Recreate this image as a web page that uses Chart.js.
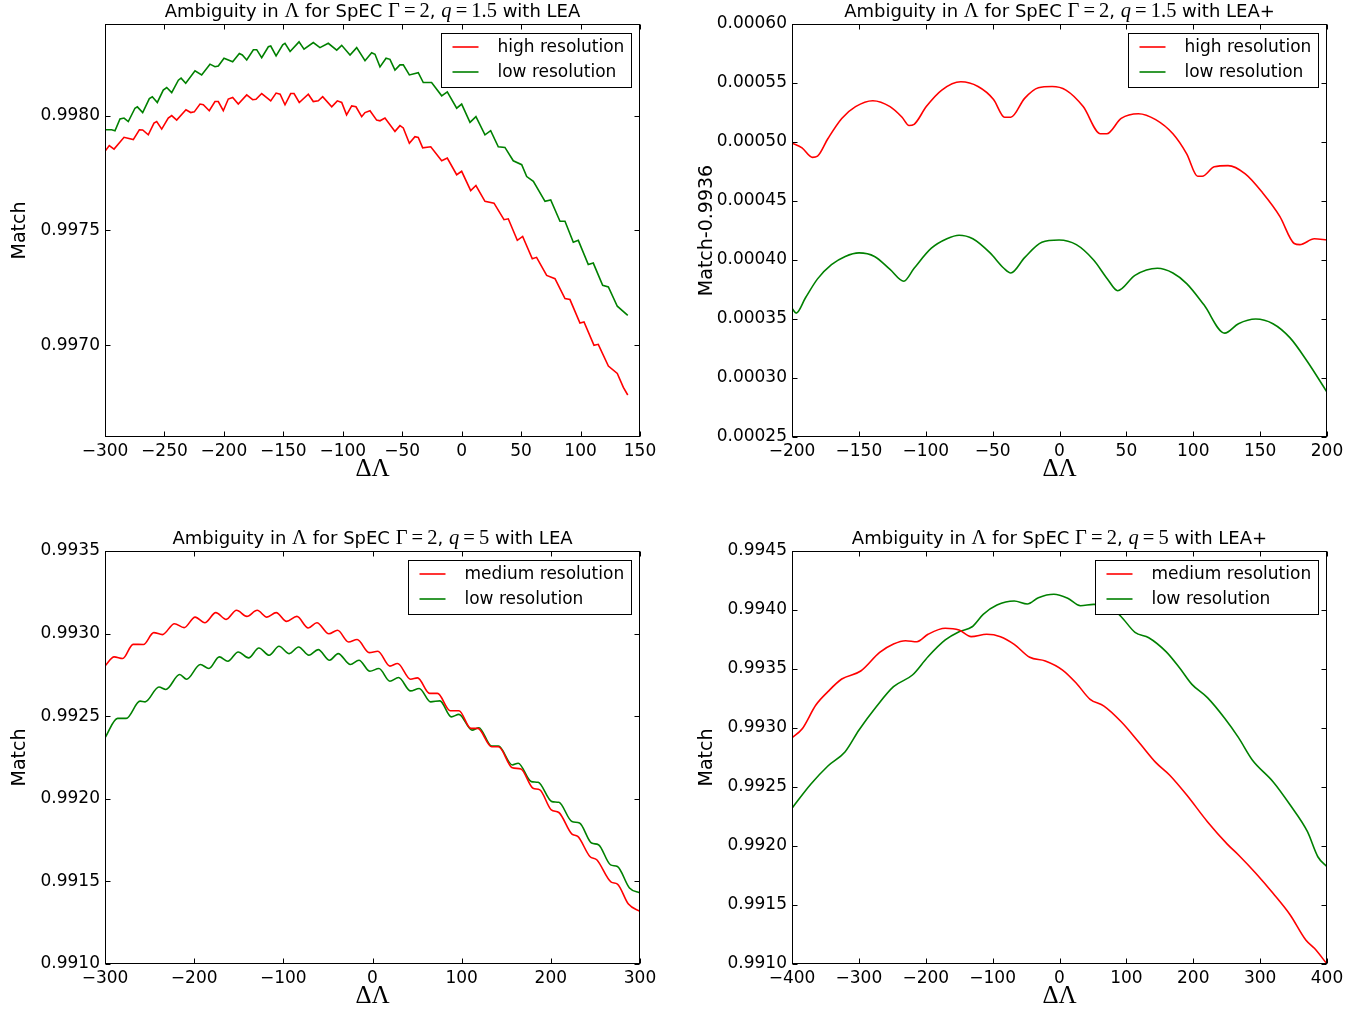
<!DOCTYPE html>
<html>
<head>
<meta charset="utf-8">
<script src="https://cdn.jsdelivr.net/npm/chart.js@4.4.0/dist/chart.umd.min.js"></script>
<style>
    body { margin: 0; background: #fff; width: 1372px; height: 1015px; overflow: hidden; position: relative; }
    canvas { position: absolute; }
</style>
</head>
<body>
<canvas id="panel1" width="686" height="500" style="left:0;top:0"></canvas>
<canvas id="panel2" width="686" height="500" style="left:687px;top:0"></canvas>
<canvas id="panel3" width="686" height="500" style="left:0;top:527px"></canvas>
<canvas id="panel4" width="686" height="500" style="left:687px;top:527px"></canvas>
<script>
// q=1.5, LEA
const q15LeaHighX = [-300, -296.4, -292.4, -284, -276.2, -271.1, -268.3, -263.6, -258.8, -256.5, -252.3, -246.8, -243.9, -239.7, -231.9, -227.9, -224.9, -220.1, -217.3, -212.3, -207.5, -204.7, -200.5, -196.3, -192.6, -187.9, -180.8, -175.8, -173, -168.2, -160.6, -156.1, -152.7, -148.6, -143.8, -141, -136.6, -129, -124.8, -120.6, -116.9, -109.3, -104.6, -100.9, -96.8, -92.5, -88.9, -84.1, -81.3, -77.1, -71.5, -68.7, -64.5, -56.1, -51.9, -49.1, -44, -39.3, -36.5, -32.8, -26, -16.8, -12.1, -4.2, 0, 7.6, 12, 19.6, 27.2, 35.6, 39.2, 46.8, 51.3, 59.4, 63, 71.5, 78.5, 86.9, 91.1, 99.5, 102.9, 111.3, 114.9, 123.4, 130.9, 136, 139.7];
const q15LeaHighY = [0.997845, 0.997870, 0.997855, 0.997906, 0.997896, 0.997939, 0.997938, 0.997917, 0.997968, 0.997975, 0.997942, 0.997990, 0.998001, 0.997981, 0.998026, 0.998014, 0.998017, 0.998051, 0.998048, 0.998022, 0.998062, 0.998062, 0.998022, 0.998073, 0.998080, 0.998051, 0.998091, 0.998070, 0.998072, 0.998097, 0.998065, 0.998099, 0.998094, 0.998048, 0.998097, 0.998097, 0.998058, 0.998094, 0.998062, 0.998065, 0.998083, 0.998039, 0.998065, 0.998058, 0.998004, 0.998043, 0.998039, 0.997996, 0.998014, 0.998022, 0.997981, 0.997978, 0.997990, 0.997932, 0.997957, 0.997947, 0.997880, 0.997909, 0.997906, 0.997860, 0.997865, 0.997804, 0.997816, 0.997743, 0.997758, 0.997674, 0.997696, 0.997627, 0.997619, 0.997547, 0.997551, 0.997457, 0.997474, 0.997377, 0.997383, 0.997304, 0.997290, 0.997203, 0.997199, 0.997097, 0.997101, 0.997000, 0.997004, 0.996909, 0.996877, 0.996816, 0.996783];
const q15LeaLowX = [-300, -294.4, -291.6, -287.4, -284, -280.4, -274.8, -272.8, -268.3, -262.7, -260.2, -256, -251, -248.1, -243.9, -238.3, -236, -232.1, -224.3, -218.7, -211.7, -207.5, -204.7, -199.9, -192.6, -187, -184.5, -180.8, -175.2, -172.4, -168.2, -162.6, -160.6, -156.1, -150.5, -148.6, -144.3, -136.8, -132.6, -124.8, -119.2, -112.2, -105.1, -100.9, -93.9, -88.3, -81.3, -75.7, -72.9, -68.7, -63.6, -60.3, -56.1, -51.9, -49.1, -44, -36.5, -32.3, -25.3, -16.8, -12.1, -4.2, 0, 7, 12, 19.6, 24.4, 30.8, 36.4, 43.4, 50.5, 54.7, 60.3, 70.1, 74.9, 82.7, 86.9, 93.9, 98.1, 106.5, 110.7, 118.6, 123.4, 130.9, 139.7];
const q15LeaLowY = [0.997939, 0.997939, 0.997935, 0.997986, 0.997990, 0.997975, 0.998033, 0.998039, 0.998014, 0.998075, 0.998083, 0.998058, 0.998112, 0.998123, 0.998101, 0.998155, 0.998164, 0.998142, 0.998196, 0.998178, 0.998225, 0.998214, 0.998217, 0.998251, 0.998235, 0.998271, 0.998265, 0.998243, 0.998288, 0.998288, 0.998253, 0.998301, 0.998304, 0.998261, 0.998309, 0.998316, 0.998280, 0.998322, 0.998290, 0.998319, 0.998297, 0.998316, 0.998286, 0.998307, 0.998265, 0.998297, 0.998240, 0.998275, 0.998268, 0.998213, 0.998251, 0.998246, 0.998199, 0.998222, 0.998222, 0.998178, 0.998188, 0.998145, 0.998145, 0.998087, 0.998104, 0.998033, 0.998051, 0.997971, 0.997996, 0.997917, 0.997935, 0.997865, 0.997862, 0.997804, 0.997787, 0.997735, 0.997714, 0.997627, 0.997633, 0.997540, 0.997540, 0.997449, 0.997457, 0.997352, 0.997358, 0.997261, 0.997254, 0.997170, 0.997130];

// q=1.5, LEA+ (match minus 0.9936)
const q15PlusHighX = [-200, -192.5, -184.7, -180.9, -173.1, -162.8, -152.5, -139.6, -126.7, -117.7, -112.5, -108.7, -99.6, -88, -73.8, -60.9, -49.3, -41.1, -36.4, -26.1, -15.8, -5.5, 4.8, 17.7, 30.6, 35.3, 46.1, 59, 71.9, 84.8, 95.1, 103.3, 106.7, 115.7, 126, 138.9, 151.8, 164.7, 175.5, 179.7, 190.5, 200];
const q15PlusHighY = [0.000499, 0.000495, 0.000487, 0.000488, 0.000503, 0.000520, 0.000530, 0.000535, 0.000530, 0.000521, 0.000514, 0.000515, 0.000530, 0.000544, 0.000551, 0.000547, 0.000536, 0.000521, 0.000521, 0.000537, 0.000546, 0.000547, 0.000544, 0.000530, 0.000507, 0.000507, 0.000520, 0.000524, 0.000519, 0.000507, 0.000490, 0.000471, 0.000471, 0.000479, 0.000480, 0.000473, 0.000457, 0.000437, 0.000414, 0.000413, 0.000418, 0.000417];
const q15PlusLowX = [-200, -196.9, -189.9, -180.9, -170.5, -160.2, -149.9, -138.3, -126.7, -116.4, -108.7, -95.8, -84.2, -75.1, -64.8, -51.9, -41.6, -36.4, -26.1, -13.2, -0.3, 12.6, 25.5, 35.8, 43.5, 56.4, 73.2, 84.8, 95.1, 108, 123.5, 133.8, 146.7, 159.6, 172.4, 185.3, 200];
const q15PlusLowY = [0.000359, 0.000355, 0.000368, 0.000384, 0.000396, 0.000403, 0.000406, 0.000403, 0.000392, 0.000382, 0.000393, 0.000410, 0.000418, 0.000421, 0.000418, 0.000406, 0.000393, 0.000389, 0.000402, 0.000415, 0.000417, 0.000413, 0.000400, 0.000384, 0.000374, 0.000387, 0.000393, 0.000389, 0.000380, 0.000362, 0.000338, 0.000346, 0.000350, 0.000346, 0.000334, 0.000314, 0.000288];

// q=5, LEA
const q5LeaMedX = [-300, -289.7, -280.1, -268.5, -256.9, -245.3, -235.6, -222.1, -211.3, -198.9, -188.1, -175.7, -164.1, -152.5, -140.9, -129.3, -118.5, -108, -96.4, -84.8, -72.1, -62.4, -48.9, -39.2, -26.9, -17.2, -3.7, 6, 19.5, 28.1, 42.7, 50.5, 64, 72.9, 87.2, 96.9, 110.4, 118.1, 133.6, 141.3, 156.8, 166.5, 180, 187.7, 200.5, 209, 223.7, 230.2, 243.8, 251.5, 267.7, 274.7, 287, 300];
const q5LeaMedY = [0.992804, 0.992859, 0.992849, 0.992935, 0.992934, 0.993006, 0.992994, 0.993060, 0.993036, 0.993100, 0.993066, 0.993127, 0.993086, 0.993141, 0.993104, 0.993141, 0.993100, 0.993127, 0.993074, 0.993104, 0.993034, 0.993066, 0.992999, 0.993020, 0.992949, 0.992964, 0.992885, 0.992893, 0.992803, 0.992819, 0.992724, 0.992732, 0.992638, 0.992638, 0.992533, 0.992533, 0.992426, 0.992426, 0.992315, 0.992315, 0.992188, 0.992180, 0.992064, 0.992054, 0.991933, 0.991917, 0.991786, 0.991772, 0.991651, 0.991631, 0.991496, 0.991484, 0.991363, 0.991319];
const q5LeaLowX = [-300, -285.9, -276.2, -260.7, -255, -239.5, -231.7, -216.3, -208.5, -193.1, -183.4, -171.8, -162.2, -150.6, -139, -127.4, -115.8, -104.9, -93.3, -82.9, -71.3, -60.9, -48.1, -38.5, -24.9, -15.2, -2.9, 7.2, 19.5, 29.2, 42.7, 52.4, 65.2, 75.6, 88.4, 96.9, 111.6, 119.3, 133.6, 141.3, 156.8, 163.4, 178.1, 185.8, 201.2, 209, 223.7, 232.2, 245.7, 253.4, 267, 274.7, 288.2, 300];
const q5LeaLowY = [0.992370, 0.992487, 0.992487, 0.992591, 0.992587, 0.992677, 0.992662, 0.992752, 0.992724, 0.992813, 0.992789, 0.992859, 0.992833, 0.992889, 0.992853, 0.992913, 0.992869, 0.992923, 0.992879, 0.992919, 0.992869, 0.992903, 0.992839, 0.992879, 0.992813, 0.992839, 0.992772, 0.992789, 0.992712, 0.992734, 0.992653, 0.992668, 0.992587, 0.992593, 0.992496, 0.992511, 0.992416, 0.992430, 0.992319, 0.992319, 0.992205, 0.992215, 0.992104, 0.992100, 0.991983, 0.991979, 0.991862, 0.991853, 0.991732, 0.991722, 0.991600, 0.991590, 0.991460, 0.991430];

// q=5, LEA+
const q5PlusMedX = [-400, -385, -364.3, -346.3, -325.6, -297.2, -268.9, -248.2, -230.2, -213.2, -196.6, -170.8, -150.2, -132.1, -108.9, -88.3, -67.7, -44.5, -21.2, 4.6, 25.2, 45.8, 66.5, 92.3, 118.1, 143.8, 164.5, 190.3, 221.2, 251.2, 267.7, 293.5, 319.3, 345, 368.3, 381.2, 400];
const q5PlusMedY = [0.992918, 0.992991, 0.993195, 0.993308, 0.993415, 0.993483, 0.993641, 0.993712, 0.993740, 0.993731, 0.993794, 0.993845, 0.993830, 0.993774, 0.993794, 0.993774, 0.993709, 0.993599, 0.993568, 0.993491, 0.993379, 0.993243, 0.993186, 0.993053, 0.992884, 0.992709, 0.992602, 0.992432, 0.992206, 0.992014, 0.991924, 0.991769, 0.991599, 0.991415, 0.991203, 0.991133, 0.991000];
const q5PlusLowX = [-400, -372, -346.3, -320.5, -299.8, -274, -248.2, -219.9, -196.6, -170.8, -150.2, -130.6, -114.1, -93.5, -67.7, -48.1, -31.6, -8.4, 12.3, 31.4, 51, 71.6, 92.3, 112.9, 133.5, 159.3, 180, 198, 221.2, 247, 267.7, 288.3, 319.3, 345, 370.8, 386.3, 400];
const q5PlusLowY = [0.992320, 0.992523, 0.992678, 0.992799, 0.992983, 0.993180, 0.993350, 0.993449, 0.993604, 0.993746, 0.993816, 0.993858, 0.993963, 0.994042, 0.994076, 0.994051, 0.994104, 0.994133, 0.994099, 0.994036, 0.994048, 0.994042, 0.993943, 0.993811, 0.993765, 0.993647, 0.993506, 0.993370, 0.993257, 0.993082, 0.992918, 0.992729, 0.992545, 0.992347, 0.992121, 0.991909, 0.991824];

// tick labels
const ticksX1 = [-300, -250, -200, -150, -100, -50, 0, 50, 100, 150];
const ticksY1 = [0.9970, 0.9975, 0.9980];
const ticksX2 = [-200, -150, -100, -50, 0, 50, 100, 150, 200];
const ticksY2 = [0.00025, 0.00030, 0.00035, 0.00040, 0.00045, 0.00050, 0.00055, 0.00060];
const ticksX3 = [-300, -200, -100, 0, 100, 200, 300];
const ticksY3 = [0.9910, 0.9915, 0.9920, 0.9925, 0.9930, 0.9935];
const ticksX4 = [-400, -300, -200, -100, 0, 100, 200, 300, 400];
const ticksY4 = [0.9910, 0.9915, 0.9920, 0.9925, 0.9930, 0.9935, 0.9940, 0.9945];

Chart.defaults.font.family = '"DejaVu Sans", sans-serif';
Chart.defaults.color = '#000';

const SANS = '18px "DejaVu Sans"';
const MATH = '20.5px "Liberation Serif"';
const MATH_IT = 'italic 20.5px "Liberation Serif"';

function titleParts(q, method) {
    return [
        { text: 'Ambiguity in ', font: SANS },
        { text: '\u039B', font: MATH },
        { text: ' for SpEC ', font: SANS },
        { text: '\u0393\u2009=\u20092', font: MATH },
        { text: ', ', font: SANS },
        { text: 'q', font: MATH_IT },
        { text: '\u2009=\u2009' + q, font: MATH },
        { text: ' with ' + method, font: SANS }
    ];
}

// frame with inward ticks on all four sides
const frameTicks = {
    id: 'frameTicks',
    afterDraw(chart) {
        const { ctx, chartArea: a, scales } = chart;
        const L = Math.round(a.left) + 0.5, R = Math.round(a.right) - 0.5;
        const T = Math.round(a.top) + 0.5, B = Math.round(a.bottom) - 0.5;
        ctx.save();
        ctx.strokeStyle = '#000';
        ctx.lineWidth = 1;
        ctx.beginPath();
        scales.x.ticks.forEach(t => {
            const px = Math.round(scales.x.getPixelForValue(t.value)) + 0.5;
            ctx.moveTo(px, B); ctx.lineTo(px, B - 5);
            ctx.moveTo(px, T); ctx.lineTo(px, T + 5);
        });
        scales.y.ticks.forEach(t => {
            const py = Math.round(scales.y.getPixelForValue(t.value)) + 0.5;
            ctx.moveTo(L, py); ctx.lineTo(L + 5, py);
            ctx.moveTo(R, py); ctx.lineTo(R - 5, py);
        });
        ctx.stroke();
        ctx.strokeRect(L, T, R - L, B - T);
        ctx.restore();
    }
};

// matplotlib-like legend box in the upper right
const boxLegend = {
    id: 'boxLegend',
    afterDraw(chart) {
        const { ctx, chartArea: a } = chart;
        const sets = chart.data.datasets;
        ctx.save();
        ctx.font = '17px "DejaVu Sans"';
        let maxW = 0;
        sets.forEach(s => { maxW = Math.max(maxW, ctx.measureText(s.label).width); });
        const w = Math.round(56 + maxW + 7), h = 54;
        const x = Math.round(a.right - 9 - w) + 0.5, y = Math.round(a.top + 9) + 0.5;
        ctx.fillStyle = '#fff';
        ctx.fillRect(x, y, w, h);
        ctx.strokeStyle = '#000';
        ctx.lineWidth = 1;
        ctx.strokeRect(x, y, w, h);
        sets.forEach((s, i) => {
            const ry = Math.round(y + 13 + i * 25);
            ctx.strokeStyle = s.borderColor;
            ctx.lineWidth = 1.6;
            ctx.beginPath();
            ctx.moveTo(x + 11, ry); ctx.lineTo(x + 37, ry);
            ctx.stroke();
            ctx.fillStyle = '#000';
            ctx.textBaseline = 'middle';
            ctx.fillText(s.label, x + 56, ry + 1);
        });
        ctx.restore();
    }
};

// title with mixed sans / math fonts
const richTitle = {
    id: 'richTitle',
    afterDraw(chart, args, opts) {
        const { ctx, chartArea: a } = chart;
        ctx.save();
        ctx.fillStyle = '#000';
        ctx.textBaseline = 'alphabetic';
        let total = 0;
        opts.parts.forEach(p => { ctx.font = p.font; total += ctx.measureText(p.text).width; });
        let x = (a.left + a.right) / 2 - total / 2;
        opts.parts.forEach(p => {
            ctx.font = p.font;
            ctx.fillText(p.text, x, a.top - 7);
            x += ctx.measureText(p.text).width;
        });
        ctx.restore();
    }
};

function makePanel(id, cfg) {
    const datasets = cfg.series.map(s => ({
        label: s.label,
        data: s.x.map((v, i) => ({ x: v, y: s.y[i] })),
        borderColor: s.color,
        borderWidth: 1.6,
        pointRadius: 0,
        fill: false,
        tension: 0,
        cubicInterpolationMode: cfg.smooth ? 'monotone' : 'default'
    }));
    return new Chart(document.getElementById(id), {
        type: 'line',
        data: { datasets: datasets },
        plugins: [frameTicks, boxLegend, richTitle],
        options: {
            responsive: false,
            animation: false,
            layout: { padding: { top: 24, left: 0, right: 46, bottom: 16 } },
            plugins: {
                legend: { display: false },
                tooltip: { enabled: false },
                richTitle: { parts: cfg.title }
            },
            scales: {
                x: {
                    type: 'linear',
                    min: cfg.xTicks[0],
                    max: cfg.xTicks[cfg.xTicks.length - 1],
                    grid: { display: false, drawTicks: false },
                    border: { display: false },
                    afterBuildTicks: axis => { axis.ticks = cfg.xTicks.map(v => ({ value: v })); },
                    afterFit: axis => { axis.height = 47; },
                    ticks: {
                        padding: 4,
                        maxRotation: 0,
                        autoSkip: false,
                        font: { size: 17 },
                        callback: v => String(v).replace('-', '\u2212')
                    },
                    title: {
                        display: true,
                        text: '\u0394\u039B',
                        font: { family: '"Liberation Serif"', size: 25 },
                        padding: { top: 0, bottom: 0 }
                    }
                },
                y: {
                    type: 'linear',
                    min: cfg.yMin,
                    max: cfg.yMax,
                    grid: { display: false, drawTicks: false },
                    border: { display: false },
                    afterBuildTicks: axis => { axis.ticks = cfg.yTicks.map(v => ({ value: v })); },
                    afterFit: axis => { axis.width = 105; },
                    ticks: {
                        padding: 5,
                        autoSkip: false,
                        font: { size: 17 },
                        callback: v => v.toFixed(cfg.digits)
                    },
                    title: {
                        display: true,
                        text: cfg.yTitle,
                        font: { size: 19 },
                        padding: { top: 9, bottom: 0 }
                    }
                }
            }
        }
    });
}

makePanel('panel1', {
    title: titleParts('1.5', 'LEA'),
    series: [
        { label: 'high resolution', color: '#ff0000', x: q15LeaHighX, y: q15LeaHighY },
        { label: 'low resolution', color: '#008000', x: q15LeaLowX, y: q15LeaLowY }
    ],
    xTicks: ticksX1, yTicks: ticksY1, yMin: 0.9966, yMax: 0.9984, digits: 4,
    yTitle: 'Match', smooth: false
});

makePanel('panel2', {
    title: titleParts('1.5', 'LEA+'),
    series: [
        { label: 'high resolution', color: '#ff0000', x: q15PlusHighX, y: q15PlusHighY },
        { label: 'low resolution', color: '#008000', x: q15PlusLowX, y: q15PlusLowY }
    ],
    xTicks: ticksX2, yTicks: ticksY2, yMin: 0.00025, yMax: 0.00060, digits: 5,
    yTitle: 'Match-0.9936', smooth: true
});

makePanel('panel3', {
    title: titleParts('5', 'LEA'),
    series: [
        { label: 'medium resolution', color: '#ff0000', x: q5LeaMedX, y: q5LeaMedY },
        { label: 'low resolution', color: '#008000', x: q5LeaLowX, y: q5LeaLowY }
    ],
    xTicks: ticksX3, yTicks: ticksY3, yMin: 0.9910, yMax: 0.9935, digits: 4,
    yTitle: 'Match', smooth: true
});

makePanel('panel4', {
    title: titleParts('5', 'LEA+'),
    series: [
        { label: 'medium resolution', color: '#ff0000', x: q5PlusMedX, y: q5PlusMedY },
        { label: 'low resolution', color: '#008000', x: q5PlusLowX, y: q5PlusLowY }
    ],
    xTicks: ticksX4, yTicks: ticksY4, yMin: 0.9910, yMax: 0.9945, digits: 4,
    yTitle: 'Match', smooth: true
});
</script>
</body>
</html>
